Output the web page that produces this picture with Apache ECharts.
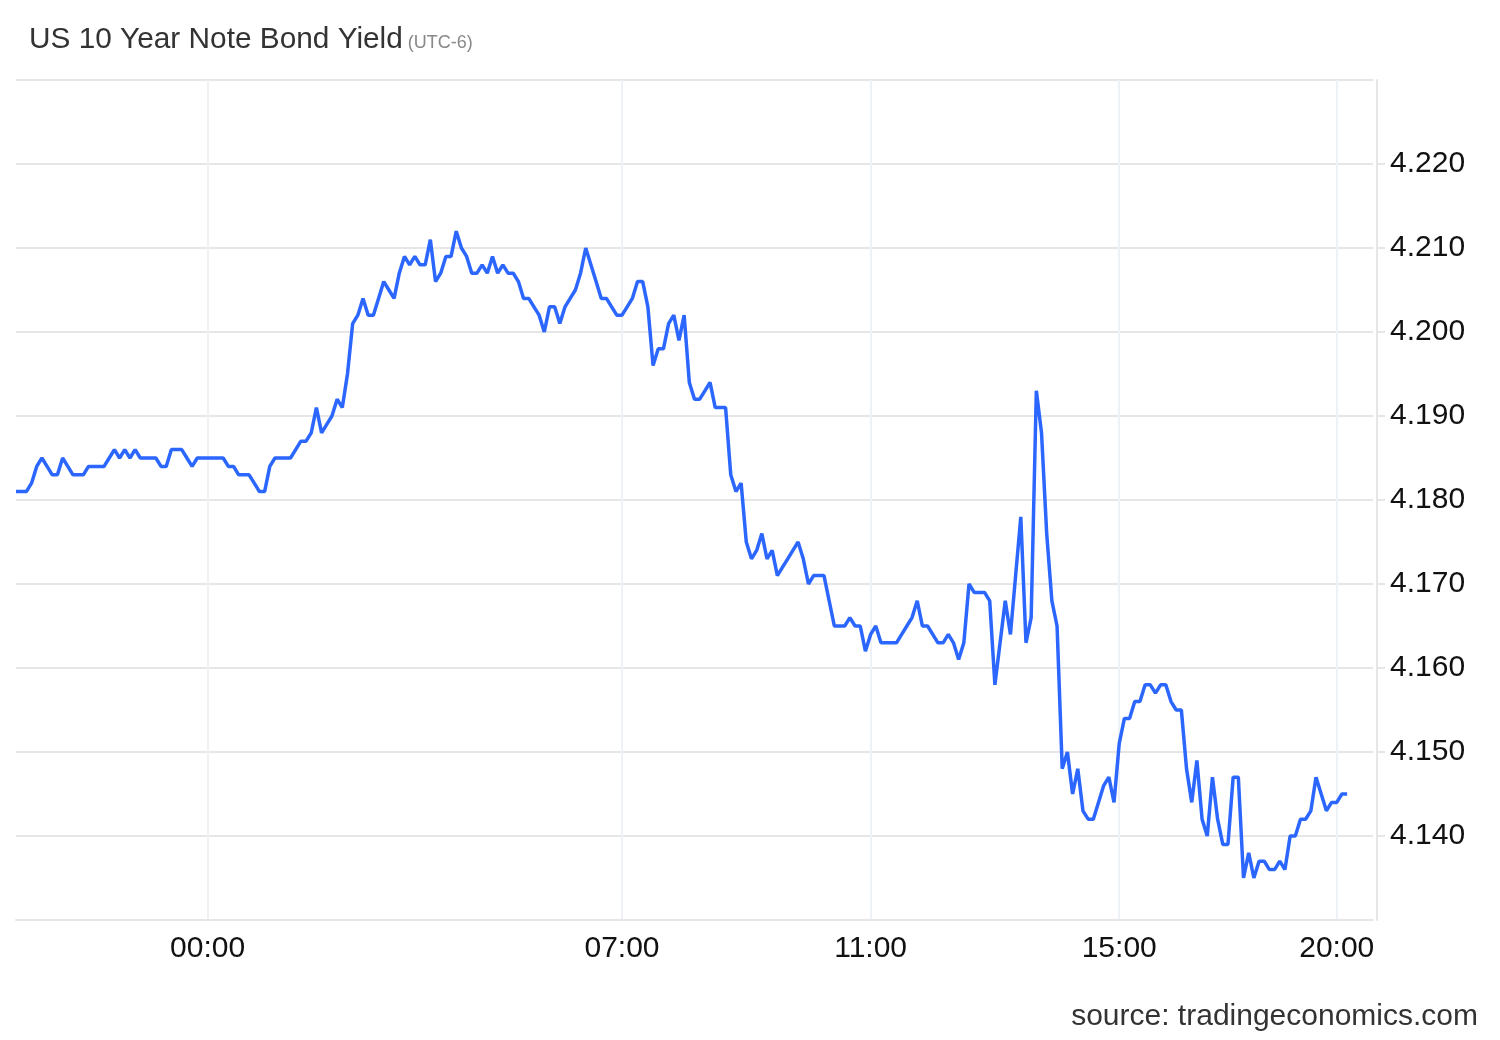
<!DOCTYPE html>
<html>
<head>
<meta charset="utf-8">
<title>US 10 Year Note Bond Yield</title>
<script src="https://cdn.jsdelivr.net/npm/echarts@6/dist/echarts.min.js"></script>
<style>
  html, body { margin: 0; padding: 0; background: #fff; }
  #chart { width: 1500px; height: 1040px; }
</style>
</head>
<body>
<div id="chart"></div>
<script>
// one reading per time slot, intraday (UTC-6)
const yieldValues = [
  4.181, 4.181, 4.181, 4.182, 4.184, 4.185, 4.184, 4.183, 4.183, 4.185,
  4.184, 4.183, 4.183, 4.183, 4.184, 4.184, 4.184, 4.184, 4.185, 4.186,
  4.185, 4.186, 4.185, 4.186, 4.185, 4.185, 4.185, 4.185, 4.184, 4.184,
  4.186, 4.186, 4.186, 4.185, 4.184, 4.185, 4.185, 4.185, 4.185, 4.185,
  4.185, 4.184, 4.184, 4.183, 4.183, 4.183, 4.182, 4.181, 4.181, 4.184,
  4.185, 4.185, 4.185, 4.185, 4.186, 4.187, 4.187, 4.188, 4.191, 4.188,
  4.189, 4.190, 4.192, 4.191, 4.195, 4.201, 4.202, 4.204, 4.202, 4.202,
  4.204, 4.206, 4.205, 4.204, 4.207, 4.209, 4.208, 4.209, 4.208, 4.208,
  4.211, 4.206, 4.207, 4.209, 4.209, 4.212, 4.210, 4.209, 4.207, 4.207,
  4.208, 4.207, 4.209, 4.207, 4.208, 4.207, 4.207, 4.206, 4.204, 4.204,
  4.203, 4.202, 4.200, 4.203, 4.203, 4.201, 4.203, 4.204, 4.205, 4.207,
  4.210, 4.208, 4.206, 4.204, 4.204, 4.203, 4.202, 4.202, 4.203, 4.204,
  4.206, 4.206, 4.203, 4.196, 4.198, 4.198, 4.201, 4.202, 4.199, 4.202,
  4.194, 4.192, 4.192, 4.193, 4.194, 4.191, 4.191, 4.191, 4.183, 4.181,
  4.182, 4.175, 4.173, 4.174, 4.176, 4.173, 4.174, 4.171, 4.172, 4.173,
  4.174, 4.175, 4.173, 4.170, 4.171, 4.171, 4.171, 4.168, 4.165, 4.165,
  4.165, 4.166, 4.165, 4.165, 4.162, 4.164, 4.165, 4.163, 4.163, 4.163,
  4.163, 4.164, 4.165, 4.166, 4.168, 4.165, 4.165, 4.164, 4.163, 4.163,
  4.164, 4.163, 4.161, 4.163, 4.170, 4.169, 4.169, 4.169, 4.168, 4.158,
  4.163, 4.168, 4.164, 4.171, 4.178, 4.163, 4.166, 4.193, 4.188, 4.176,
  4.168, 4.165, 4.148, 4.150, 4.145, 4.148, 4.143, 4.142, 4.142, 4.144,
  4.146, 4.147, 4.144, 4.151, 4.154, 4.154, 4.156, 4.156, 4.158, 4.158,
  4.157, 4.158, 4.158, 4.156, 4.155, 4.155, 4.148, 4.144, 4.149, 4.142,
  4.140, 4.147, 4.142, 4.139, 4.139, 4.147, 4.147, 4.135, 4.138, 4.135,
  4.137, 4.137, 4.136, 4.136, 4.137, 4.136, 4.140, 4.140, 4.142, 4.142,
  4.143, 4.147, 4.145, 4.143, 4.144, 4.144, 4.145, 4.145
];

// the session axis runs a few slots past the last reading
const slotCount = 263;
const tickSlots = [37, 117, 165, 213, 255];
const tickLabels = ['00:00', '07:00', '11:00', '15:00', '20:00'];

const yMin = 4.13;
const yMax = 4.23;
const yStep = 0.01;

const slots = [];
for (let i = 0; i < slotCount; i++) {
  slots.push(i);
}

const font = "'Liberation Sans', Arial, sans-serif";
const isTick = (i) => tickSlots.indexOf(i) !== -1;

const chart = echarts.init(document.getElementById('chart'));
chart.setOption({
  animation: false,
  backgroundColor: '#fff',
  title: [{
    text: '{main|US 10 Year Note Bond Yield}{sub| (UTC-6)}',
    left: 29,
    top: 25,
    padding: 0,
    textStyle: {
      fontWeight: 'normal',
      rich: {
        main: {fontSize: 29.8, color: '#333', fontWeight: 'normal', fontFamily: font, verticalAlign: 'bottom'},
        sub: {fontSize: 18, color: '#888', fontWeight: 'normal', fontFamily: font, verticalAlign: 'bottom', padding: [0, 0, 3, 0]}
      }
    }
  }, {
    text: 'source: tradingeconomics.com',
    right: 22,
    top: 1002,
    padding: 0,
    textStyle: {fontSize: 30, color: '#333', fontWeight: 'normal', fontFamily: font}
  }],
  grid: {
    left: 16,
    right: 127,
    top: 80,
    bottom: 120
  },
  xAxis: {
    type: 'category',
    data: slots,
    boundaryGap: false,
    axisLine: {lineStyle: {color: '#e6e6e6', width: 2}},
    axisTick: {show: false},
    axisLabel: {
      interval: (i) => isTick(i),
      formatter: (v) => tickLabels[tickSlots.indexOf(Number(v))],
      margin: 14,
      fontSize: 30,
      color: '#111',
      fontFamily: font
    },
    splitLine: {
      show: true,
      interval: (i) => isTick(i),
      lineStyle: {color: '#eef1f6', width: 2}
    }
  },
  yAxis: {
    type: 'value',
    position: 'right',
    min: yMin,
    max: yMax,
    interval: yStep,
    offset: 4,
    axisLine: {show: true, lineStyle: {color: '#e6e6e6', width: 2}},
    axisTick: {show: true, length: 8, lineStyle: {color: '#e6e6e6', width: 2}},
    axisLabel: {
      margin: 13,
      fontSize: 30,
      color: '#111',
      fontFamily: font,
      showMinLabel: false,
      showMaxLabel: false,
      formatter: (v) => v.toFixed(3)
    },
    splitLine: {lineStyle: {color: '#e6e6e6', width: 2}}
  },
  series: [{
    name: 'US10Y',
    type: 'line',
    data: yieldValues,
    symbol: 'none',
    lineStyle: {color: '#2b66ff', width: 3.5},
    itemStyle: {color: '#2b66ff'}
  }]
});
</script>
</body>
</html>
